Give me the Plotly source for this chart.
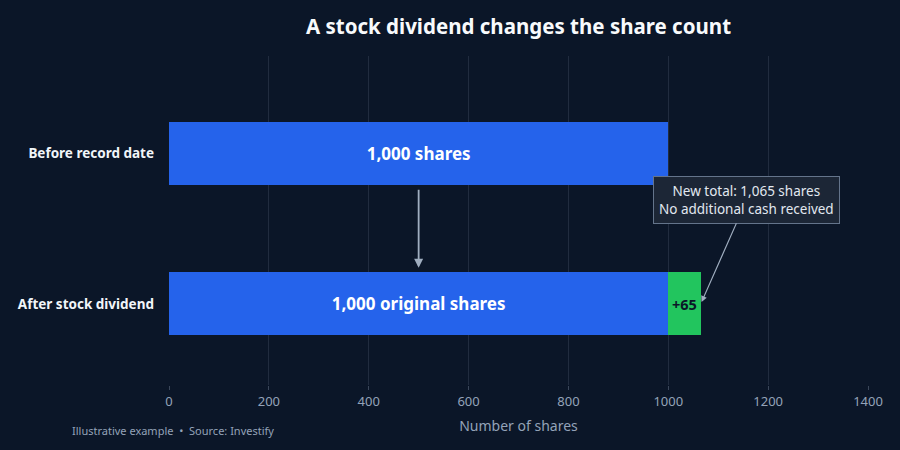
import plotly.graph_objects as go

# data
stages = ["Before record date", "After stock dividend"]
original_shares = [1000, 1000]
original_labels = ["1,000 shares", "1,000 original shares"]
dividend_stage = ["After stock dividend"]
dividend_shares = [65]
dividend_labels = ["+65"]
x_ticks = [0, 200, 400, 600, 800, 1000, 1200, 1400]

BG = "#0b1628"
FONT = "Noto Sans"
total_after = original_shares[1] + dividend_shares[0]

fig = go.Figure()

fig.add_trace(go.Bar(
    y=stages,
    x=original_shares,
    orientation="h",
    width=0.42,
    marker=dict(color="#2563eb", line=dict(width=0)),
    text=original_labels,
    textposition="inside",
    insidetextanchor="middle",
    textfont=dict(family=FONT, size=17, color="#ffffff", weight="bold"),
    hoverinfo="skip",
))

fig.add_trace(go.Bar(
    y=dividend_stage,
    x=dividend_shares,
    orientation="h",
    width=0.42,
    marker=dict(color="#22c55e", line=dict(width=0)),
    hoverinfo="skip",
))

# label for the small green segment (plotly would shrink inside text)
fig.add_annotation(
    x=original_shares[1] + dividend_shares[0] / 2, y=dividend_stage[0],
    xref="x", yref="y",
    text=f"<b>{dividend_labels[0]}</b>", showarrow=False,
    font=dict(family=FONT, size=14.5, color="#0b1628"),
)

# vertical arrow between the bars
fig.add_annotation(
    x=500, y=0.24, ax=500, ay=0.77,
    xref="x", yref="y", axref="x", ayref="y",
    text="", showarrow=True,
    arrowhead=2, arrowsize=1, arrowwidth=1.8, arrowcolor="#a0aec0",
)

# callout for the new total
fig.add_annotation(
    x=total_after, y=0,
    xref="x", yref="y",
    text=f"New total: {total_after:,} shares<br>No additional cash received",
    showarrow=True, ax=46, ay=-104,
    arrowhead=2, arrowsize=1, arrowwidth=1.2, arrowcolor="#a0aec0",
    standoff=2,
    font=dict(family=FONT, size=13.5, color="#e2e8f0"),
    align="center",
    bgcolor="#1c2636", bordercolor="#64748b", borderwidth=1, borderpad=5,
)

fig.add_annotation(
    x=-0.142, y=-0.137, xref="paper", yref="paper",
    xanchor="left", yanchor="middle",
    text="Illustrative example  •  Source: Investify",
    showarrow=False,
    font=dict(family=FONT, size=11, color="#94a3b8"),
)

fig.update_layout(
    width=900, height=450,
    barmode="stack",
    showlegend=False,
    paper_bgcolor=BG, plot_bgcolor=BG,
    margin=dict(l=169, r=32, t=56, b=65),
    font=dict(family=FONT, color="#e2e8f0"),
    title=dict(
        text="A stock dividend changes the share count",
        x=0.5, xref="paper", xanchor="center",
        y=0.94, yanchor="middle",
        font=dict(family=FONT, size=20.5, color="#f8fafc", weight="bold"),
    ),
    xaxis=dict(
        range=[0, 1400],
        tickvals=x_ticks,
        showgrid=True, gridcolor="rgba(148,163,184,0.16)", gridwidth=1,
        zeroline=False,
        ticks="outside", ticklen=4, tickcolor="rgba(148,163,184,0.35)",
        tickfont=dict(family=FONT, size=13, color="#94a3b8"),
        title=dict(text="Number of shares", standoff=12,
                   font=dict(family=FONT, size=14, color="#94a3b8")),
        fixedrange=True,
    ),
    yaxis=dict(
        categoryorder="array",
        categoryarray=stages[::-1],
        range=[-0.54, 1.65],
        showgrid=False, zeroline=False,
        ticks="", ticklabelstandoff=14,
        tickfont=dict(family=FONT, size=13.5, color="#f1f5f9", weight="bold"),
        fixedrange=True,
    ),
)

fig.write_html("out.html", config={"displayModeBar": False},
               post_script="document.body.style.margin='0';")
